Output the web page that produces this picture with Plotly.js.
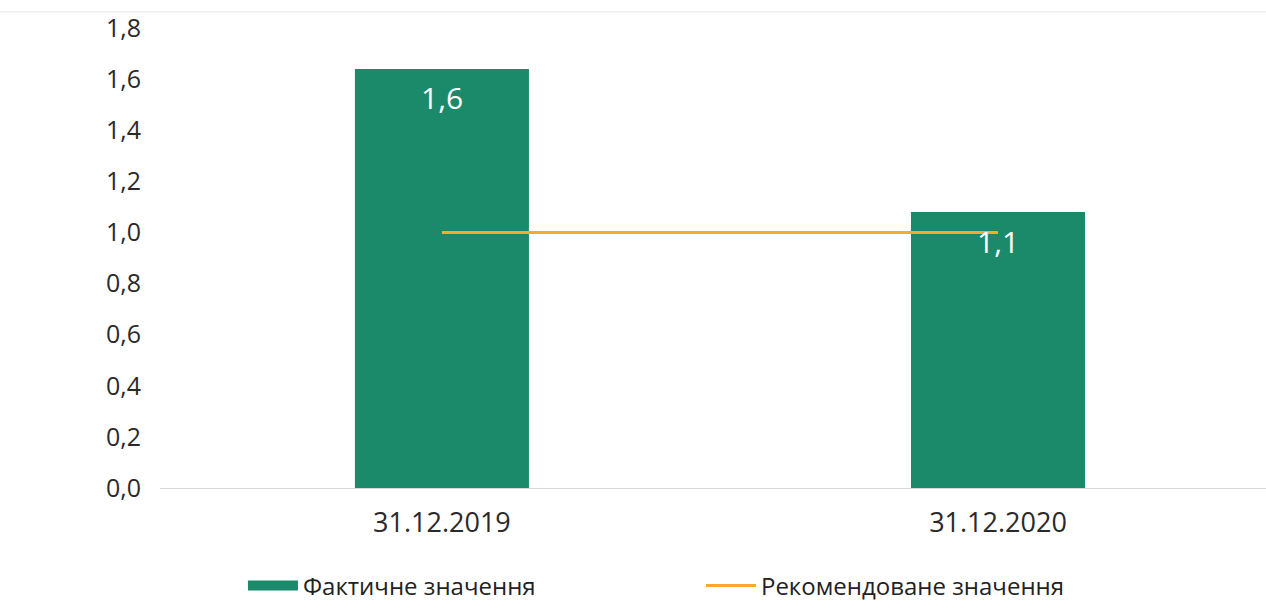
<!DOCTYPE html>
<html>
<head>
<meta charset="utf-8">
<script src="https://cdn.plot.ly/plotly-3.0.1.min.js"></script>
<style>html,body{margin:0;padding:0;background:#fff;}#chart{width:1266px;height:613px;}</style>
</head>
<body>
<div id="chart"></div>
<script>
const categories = ["31.12.2019", "31.12.2020"];
const actualValues = [1.64, 1.08];
const actualLabels = ["1,6", "1,1"];
const recommendedValues = [1.0, 1.0];
const yTickValues = [0, 0.2, 0.4, 0.6, 0.8, 1.0, 1.2, 1.4, 1.6, 1.8];
const yTickLabels = ["0,0", "0,2", "0,4", "0,6", "0,8", "1,0", "1,2", "1,4", "1,6", "1,8"];
const seriesNames = ["Фактичне значення", "Рекомендоване значення"];

const green = "#1b8a6b";
const orange = "#f7a930";
const font = "'Open Sans', 'Noto Sans', sans-serif";

const traces = [
  {
    type: "bar", x: categories, y: actualValues, width: 0.313,
    marker: {color: green}, showlegend: false, hoverinfo: "skip"
  },
  {
    type: "scatter", mode: "lines", x: [null], y: [null],
    name: seriesNames[0], line: {color: green, width: 13}
  },
  {
    type: "scatter", mode: "lines", x: categories, y: recommendedValues,
    name: seriesNames[1], line: {color: orange, width: 3}
  }
];

const annotations = categories.map((c, i) => ({
  x: c, y: actualValues[i], xref: "x", yref: "y",
  text: actualLabels[i], showarrow: false, yshift: -29,
  font: {family: font, size: 30, color: "#ffffff"}
}));

const layout = {
  width: 1266, height: 613,
  margin: {l: 160, r: 0, t: 28, b: 125},
  paper_bgcolor: "#ffffff", plot_bgcolor: "#ffffff",
  font: {family: font, color: "#333333"},
  xaxis: {
    type: "category", range: [-0.507, 1.482],
    showgrid: false, zeroline: false,
    showline: true, linecolor: "#d9d9d9", linewidth: 1,
    ticks: "", ticklabelstandoff: 11,
    tickfont: {family: font, size: 27, color: "#2a2a2a"}
  },
  yaxis: {
    range: [0, 1.8], tickvals: yTickValues, ticktext: yTickLabels,
    showgrid: false, zeroline: false, showline: false,
    ticks: "", ticklabelstandoff: 18,
    tickfont: {family: font, size: 25, color: "#2a2a2a"}
  },
  legend: {
    orientation: "h", x: 0.075, xanchor: "left", y: -0.213, yanchor: "middle",
    font: {family: font, size: 24, color: "#222222"},
    entrywidth: 393, itemwidth: 50, tracegroupgap: 0
  },
  annotations: annotations,
  shapes: [
    {type: "line", xref: "paper", yref: "paper", x0: -0.2, x1: 1, y0: 1.035, y1: 1.035,
     line: {color: "#e6e6e6", width: 1}}
  ]
};

Plotly.newPlot("chart", traces, layout, {displayModeBar: false, staticPlot: true});
</script>
</body>
</html>
